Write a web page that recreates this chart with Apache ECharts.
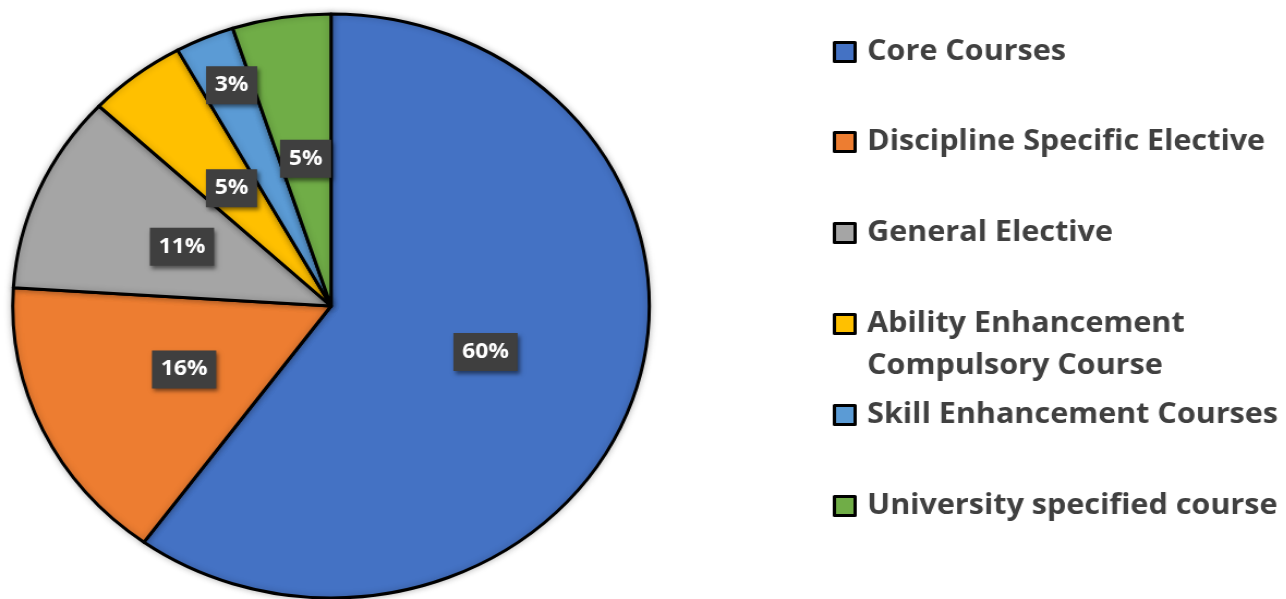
<!DOCTYPE html>
<html>
<head>
<meta charset="utf-8">
<script src="https://cdn.jsdelivr.net/npm/echarts@6/dist/echarts.min.js"></script>
<style>
  html, body { margin: 0; padding: 0; background: #fff; overflow: hidden; }
  #wrap { width: 1286px; height: 599px; overflow: hidden; }
  #chart { width: 1180px; height: 599px; transform: scaleX(1.09); transform-origin: 0 0; }
</style>
</head>
<body>
<div id="wrap"><div id="chart"></div></div>
<script>
// ---- data ----
const categories = [
  'Core Courses',
  'Discipline Specific Elective',
  'General Elective',
  'Ability Enhancement\nCompulsory Course',
  'Skill Enhancement Courses',
  'University specified course'
];
const shares = [60, 16, 11, 5, 3, 5];

// ---- styles / layout ----
const colors = ['#4472C4', '#ED7D31', '#A5A5A5', '#FFC000', '#5B9BD5', '#70AD47'];
const legendCenters = [52, 142, 233, 324, 415, 506];
const legendLeft = 764;
const lineH = 42;
const fontFam = '"Open Sans", "Liberation Sans", sans-serif';

const chart = echarts.init(document.getElementById('chart'), null, { renderer: 'canvas' });

const legends = categories.map(function (name, i) {
  const lines = name.split('\n').length;
  const extra = lines - 1;                 // blank lines prepended so the marker sits on line 1
  const boxH = (lines + extra) * lineH;
  return {
    show: true,
    orient: 'vertical',
    left: legendLeft,
    top: legendCenters[i] - boxH / 2,
    padding: 0,
    itemWidth: 19,
    itemHeight: 19,
    itemGap: 0,
    icon: 'rect',
    selectedMode: false,
    data: [name],
    formatter: function (n) { return '\n'.repeat(extra) + n; },
    itemStyle: { borderColor: '#000', borderWidth: 3 },
    textStyle: {
      fontFamily: fontFam,
      fontWeight: 'bold',
      fontSize: 28,
      lineHeight: lineH,
      color: '#404040',
      padding: [0, 0, 0, 6]
    }
  };
});

const option = {
  backgroundColor: '#ffffff',
  animation: false,
  color: colors,
  legend: legends,
  series: [{
    type: 'pie',
    center: [303.7, 306],
    radius: ['0%', 292],
    startAngle: 90,
    clockwise: true,
    avoidLabelOverlap: false,
    data: categories.map(function (n, i) { return { name: n, value: shares[i] }; }),
    itemStyle: {
      borderColor: '#000',
      borderWidth: 3,
      shadowBlur: 6,
      shadowColor: 'rgba(0,0,0,0.25)'
    },
    emphasis: { disabled: true },
    labelLine: { show: false },
    label: {
      show: true,
      position: 'inside',
      formatter: '{c}%',
      fontFamily: fontFam,
      fontWeight: 'bold',
      fontSize: 21,
      lineHeight: 26,
      color: '#ffffff',
      backgroundColor: '#3f3f3f',
      padding: [6, 8, 6, 8],
      shadowColor: 'rgba(0,0,0,0.5)',
      shadowBlur: 4,
      shadowOffsetX: 2,
      shadowOffsetY: 3,
      textShadowColor: 'transparent'
    },
    labelLayout: function (params) {
      if (params.dataIndex === 4) {
        return { dx: -32, dy: -84 };
      }
      return {};
    }
  }]
};

chart.setOption(option);
</script>
</body>
</html>
